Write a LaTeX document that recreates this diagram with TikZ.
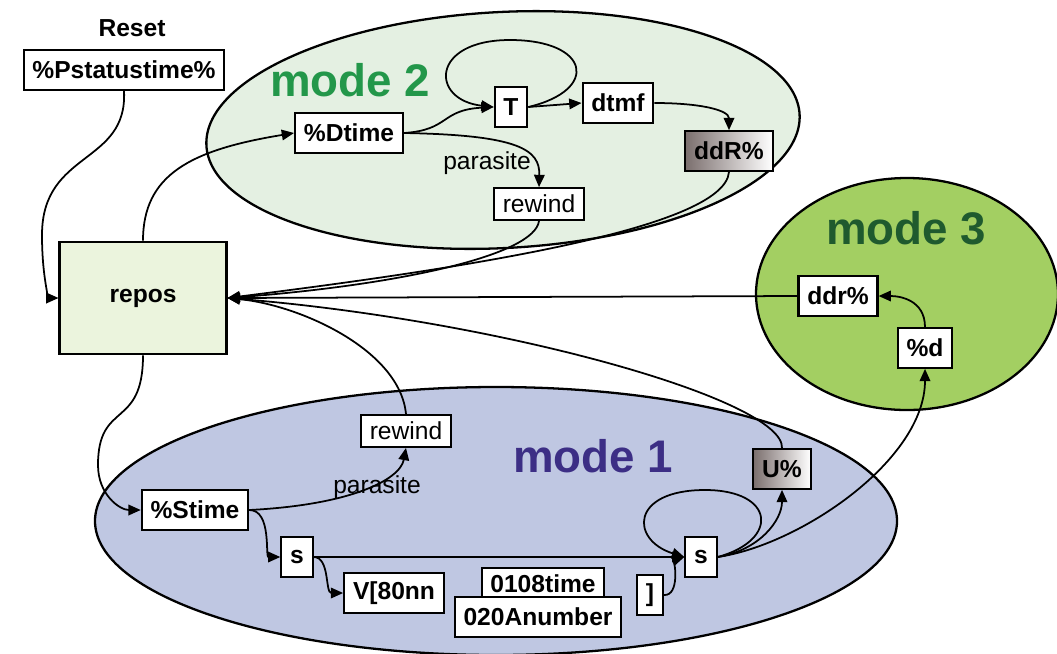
\documentclass[tikz,border=0pt]{standalone}
\usepackage{fontspec}
\setmainfont{Liberation Sans}
\usetikzlibrary{arrows.meta}

\definecolor{greenpale}{HTML}{E4F0E2}
\definecolor{bluepale}{HTML}{BFC7E2}
\definecolor{greenlime}{HTML}{A3CF62}
\definecolor{reposfill}{HTML}{EBF4DD}
\definecolor{greentext}{HTML}{23974A}
\definecolor{bluetext}{HTML}{3C2E85}
\definecolor{darkgreen}{HTML}{1F5A2E}
\definecolor{umber}{HTML}{7B6F6E}

\begin{document}
\begin{tikzpicture}[x=0.02cm,y=-0.02cm,
	>={Triangle[length=7pt,width=6pt]},
	box/.style={draw,fill=white,line width=1.2pt,font=\fontsize{14}{16}\selectfont\bfseries,
		minimum height=22.5pt,inner xsep=5pt,inner ysep=2pt},
	lightbox/.style={box,font=\fontsize{14}{16}\selectfont,minimum height=18pt},
	shadebox/.style={box,left color=umber,right color=white},
	link/.style={line width=1pt,->},
	modelabel/.style={font=\fontsize{26}{30}\selectfont\bfseries}]
	
	\useasboundingbox (0,0) rectangle (1057,653);
	
	% the three modes
	\draw[fill=greenpale,line width=1.3pt,rotate around={3:(503,130)}] (503,130) ellipse [x radius=297, y radius=118];
	\draw[fill=bluepale,line width=1.3pt] (496,521) ellipse [x radius=401, y radius=134];
	\draw[fill=greenlime,line width=1.3pt] (907,294) ellipse [x radius=151, y radius=116];
	
	\node[modelabel,greentext] (m2) at (350,80) {mode 2};
	\node[modelabel,bluetext] (m1) at (593,456) {mode 1};
	\node[modelabel,darkgreen] (m3) at (906,228) {mode 3};
	
	% states
	\node[font=\fontsize{14}{16}\selectfont\bfseries] (reset) at (132,28) {Reset};
	\node[box] (pstat) at (124,70) {\%Pstatustime\%};
	\node[box,fill=reposfill,minimum width=95pt,minimum height=64pt] (repos) at (143,298) {repos};
	
	\node[box] (dtime) at (349,133) {\%Dtime};
	\node[box] (tnode) at (511,107) {T};
	\node[box] (dtmf) at (618,103) {dtmf};
	\node[shadebox] (ddRu) at (729,151) {ddR\%};
	\node[lightbox] (rew2) at (539,204) {rewind};
	\node[font=\fontsize{14}{16}\selectfont] (par2) at (487,163) {parasite};
	
	\node[box] (stime) at (195,510) {\%Stime};
	\node[box] (sleft) at (297,557) {s};
	\node[box] (vnn) at (394,593) {V[80nn};
	\node[box,minimum height=18pt] (t0108) at (543,584) {0108time};
	\node[box] (anum) at (538,617) {020Anumber};
	\node[box] (brk) at (650,595) {]};
	\node[box] (sright) at (701,557) {s};
	\node[shadebox] (upct) at (782,469) {U\%};
	\node[lightbox] (rew1) at (406,431) {rewind};
	\node[font=\fontsize{14}{16}\selectfont] (par1) at (377,487) {parasite};
	
	\node[box] (ddrp) at (838,296) {ddr\%};
	\node[box] (pd) at (925,348) {\%d};
	
	% into and out of repos
	\draw[link] (pstat.south) .. controls (128,165) and (42,150) .. (42,235) .. controls (42,280) and (50,298) .. (repos.west);
	\draw[link] (repos.north) .. controls (143,175) and (190,150) .. (dtime.west);
	\draw[link] (repos.south) .. controls (143,430) and (98,400) .. (98,465) .. controls (98,495) and (120,510) .. (stime.west);
	
	% mode 2
	\draw[link] (dtime.east) .. controls (450,130) and (440,110) .. (tnode.west);
	\draw[link] (dtime.east) .. controls (520,135) and (540,150) .. (rew2.north);
	\draw[link] (tnode.east) -- (dtmf.west);
	\draw[link] (tnode.east) .. controls (600,90) and (590,40) .. (510,40) .. controls (430,40) and (430,100) .. (tnode.west);
	\draw[link] (dtmf.east) .. controls (700,103) and (729,110) .. (ddRu.north);
	\draw[link] (ddRu.south) .. controls (725,230) and (450,270) .. (repos.east);
	\draw[link] (rew2.south) .. controls (535,255) and (400,285) .. (repos.east);
	
	% mode 1
	\draw[link] (stime.east) .. controls (272,510) and (265,557) .. (sleft.west);
	\draw[link] (stime.east) .. controls (350,505) and (400,480) .. (rew1.south);
	\draw[link] (sleft.east) .. controls (330,557) and (325,593) .. (vnn.west);
	\draw[link] (sleft.east) -- (sright.west);
	\draw[link] (brk.east) .. controls (680,596) and (675,560) .. (sright.west);
	\draw[link] (sright.east) .. controls (780,540) and (775,490) .. (705,490) .. controls (630,490) and (630,540) .. (sright.west);
	\draw[link] (sright.east) .. controls (760,550) and (782,520) .. (upct.south);
	\draw[link] (sright.east) .. controls (800,545) and (925,460) .. (pd.south);
	\draw[link] (rew1.north) .. controls (400,350) and (300,305) .. (repos.east);
	\draw[link] (upct.north) .. controls (785,400) and (500,320) .. (repos.east);
	
	% mode 3
	\draw[link] (pd.north) .. controls (925,300) and (900,296) .. (ddrp.east);
	\draw[link] (ddrp.west) -- (repos.east);
	
\end{tikzpicture}
\end{document}
